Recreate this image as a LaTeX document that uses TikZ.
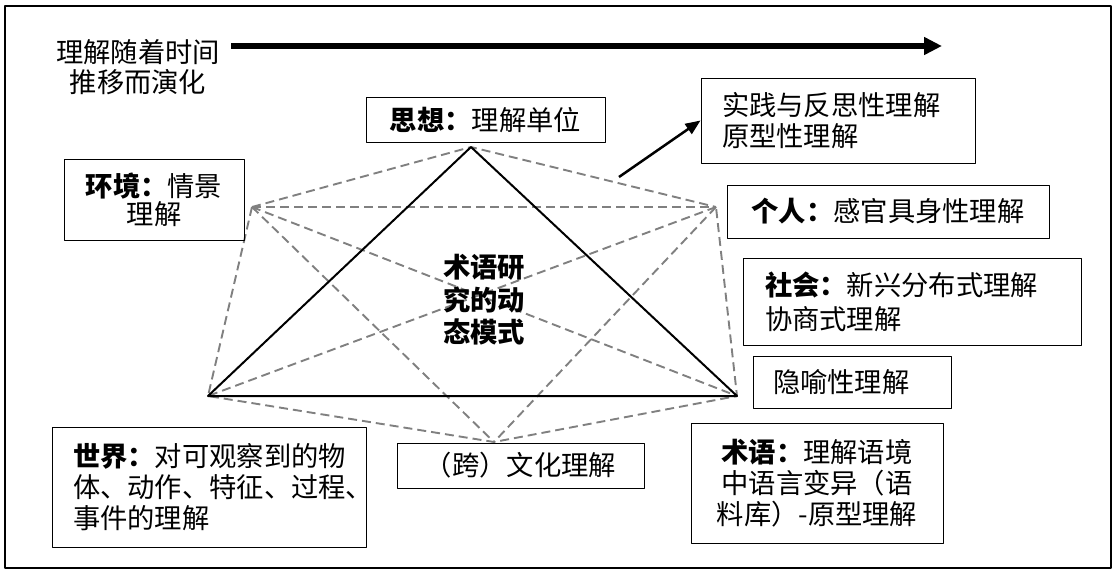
\documentclass[tikz,border=0pt]{standalone}
\usepackage{fontspec}
\setmainfont{Noto Sans CJK SC}
\usepackage{tikz}
\usetikzlibrary{arrows.meta}
\newcommand{\zhsize}{\fontsize{27.3pt}{31pt}\selectfont}
\begin{document}
\begin{tikzpicture}[join=round, x=1pt, y=-1pt]
		\tikzstyle{kuang}=[draw, line width=1pt, rectangle, inner sep=0pt, font=\zhsize];
		\tikzstyle{kuang_l}=[kuang, align=left];
		\tikzstyle{xuxian}=[draw=black!50, line width=1.9pt, dash pattern=on 9pt off 5pt];
		\tikzstyle{shixian}=[draw=black, line width=2pt];

		\useasboundingbox (0,0) rectangle (1117,574);
		\draw[line width=2.5pt] (5,6) rectangle (1111,568);

		% time axis
		\node[align=center, font=\fontsize{27.3pt}{30pt}\selectfont] (title) at (138,67) {理解随着时间\\推移而演化};
		\coordinate (t_a) at (231,46);
		\coordinate (t_b) at (942,46);
		\draw[line width=5.5pt, -{Triangle[length=18pt,width=17pt]}] (t_a) -- (t_b);

		% corners of the hexagon
		\coordinate (v_t) at (471,147);
		\coordinate (v_ul) at (252,207);
		\coordinate (v_ur) at (716,207);
		\coordinate (v_ll) at (208,396);
		\coordinate (v_lr) at (737,396);
		\coordinate (v_b) at (494,442);

		\draw[xuxian] (v_ul) -- (v_t) -- (v_ur);
		\draw[xuxian] (v_ul) -- (v_ur);
		\draw[xuxian] (v_ul) -- (v_ll) -- (v_b) -- (v_lr) -- (v_ur);
		\draw[xuxian] (v_ul) -- (v_lr);
		\draw[xuxian] (v_ul) -- (v_b);
		\draw[xuxian] (v_ur) -- (v_ll);
		\draw[xuxian] (v_ur) -- (v_b);

		\draw[shixian] (v_t) -- (v_ll) -- (v_lr) -- cycle;
		\node[align=center, font=\fontsize{27.3pt}{32.5pt}\selectfont\bfseries] (core) at (484,300) {术语研\\究的动\\态模式};

		% boxes
		\node[kuang, minimum width=239pt, minimum height=45pt] (box_sx) at (485.5,119.5) {\textbf{思想：}理解单位};
		\node[kuang_l, text width=232pt, inner xsep=21pt, minimum height=85pt] (box_sj) at (838,120.5) {实践与反思性理解\\原型性理解};
		\node[kuang, align=center, minimum width=180pt, minimum height=81pt, font=\fontsize{27.3pt}{28pt}\selectfont] (box_hj) at (154,199.5) {\textbf{环境：}情景\\理解};
		\node[kuang, minimum width=322pt, minimum height=53pt] (box_gr) at (888,211.5) {\textbf{个人：}感官具身性理解};
		\node[kuang_l, text width=294pt, inner xsep=22pt, minimum height=87pt, font=\fontsize{27.3pt}{34pt}\selectfont] (box_sh) at (912,301.5) {\textbf{社会：}新兴分布式理解\\协商式理解};
		\node[kuang_l, text width=158pt, inner xsep=20pt, minimum height=52pt] (box_yy) at (852,382) {隐喻性理解};
		\node[kuang_l, text width=272pt, inner xsep=21pt, minimum height=120pt] (box_sjie) at (209,487) {\textbf{世界：}对可观察到的物\\体、动作、特征、过程、\\事件的理解};
		\node[kuang, minimum width=247pt, minimum height=45pt] (box_wh) at (520.5,465.5) {（跨）文化理解};
		\node[kuang, align=center, minimum width=252pt, minimum height=120pt] (box_sy) at (817,483) {\textbf{术语：}理解语境\\中语言变异（语\\料库）-原型理解};

		\coordinate (p_a) at (619,177);
		\draw[line width=2.5pt, -{Triangle[length=15pt,width=12pt]}] (p_a) -- (box_sj.west);
\end{tikzpicture}
\end{document}
